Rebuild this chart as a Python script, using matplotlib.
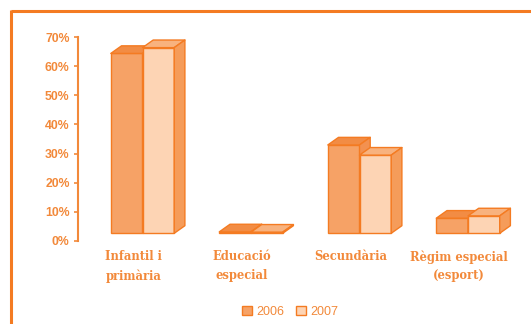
import numpy as np
import matplotlib.pyplot as plt
from matplotlib.patches import Rectangle, Polygon
from matplotlib.lines import Line2D
from matplotlib.ticker import FuncFormatter

# share of pupils by stage, %
categories = ["Infantil i\nprimària", "Educació\nespecial", "Secundària", "Règim especial\n(esport)"]
years = ["2006", "2007"]
vals_2006 = [61.9, 0.5, 30.4, 5.2]
vals_2007 = [63.9, 0.4, 26.9, 6.0]
y_ticks = [0, 10, 20, 30, 40, 50, 60, 70]

ORANGE = "#F47B22"
TEXT = "#F2893A"
front_col = {"2006": "#F6A266", "2007": "#FDD4B4"}
top_col = {"2006": "#F28C44", "2007": "#F8B27E"}
side_col = {"2006": "#F39150", "2007": "#F59C5A"}

W, H = 531, 324
fig = plt.figure(figsize=(W / 100, H / 100), dpi=100)
fig.patch.set_facecolor("white")

# axes placed in pixel terms
left, right = 78, 521
bottom_px, top_px = 240.7, 37.3
ax = fig.add_axes([left / W, 1 - bottom_px / H, (right - left) / W, (bottom_px - top_px) / H])

group_px = 108.5          # pixels per category step
px_per_unit = (bottom_px - top_px) / 70.0
OFF = (bottom_px - 233.3) / px_per_unit   # floor of the boxes sits above the 0% tick
x0 = -(133.5 - left) / group_px
ax.set_xlim(x0, x0 + (right - left) / group_px)
ax.set_ylim(-OFF, 70 - OFF)

bar_w = 31.7 / group_px
shift = -22.7 / group_px
ddx = 10.7 / group_px      # box depth, x
ddy = 7.6 / px_per_unit    # box depth, y
lw = 1.0

x = np.arange(len(categories))
for i, xi in enumerate(x):
    for j, (yr, vals) in enumerate(zip(years, [vals_2006, vals_2007])):
        h = vals[i]
        bx = xi + shift + j * bar_w
        # front face
        ax.add_patch(Rectangle((bx, 0), bar_w, h, facecolor=front_col[yr],
                               edgecolor=ORANGE, lw=lw, clip_on=False, zorder=3 + j))
        # top face
        ax.add_patch(Polygon([(bx, h), (bx + bar_w, h), (bx + bar_w + ddx, h + ddy), (bx + ddx, h + ddy)],
                             closed=True, facecolor=top_col[yr], edgecolor=ORANGE, lw=lw,
                             joinstyle="round", clip_on=False, zorder=3 + j))
        # side face
        ax.add_patch(Polygon([(bx + bar_w, 0), (bx + bar_w + ddx, ddy), (bx + bar_w + ddx, h + ddy), (bx + bar_w, h)],
                             closed=True, facecolor=side_col[yr], edgecolor=ORANGE, lw=lw,
                             joinstyle="round", clip_on=False, zorder=3 + j))

for s in ax.spines.values():
    s.set_visible(False)
ax.set_yticks([])
ax.set_xticks(x)
ax.set_xticklabels(categories, fontfamily="DejaVu Serif", fontweight="bold", fontsize=8.3,
                   color=TEXT, linespacing=1.55)
ax.tick_params(axis="x", length=0, pad=7)

# percentage scale, offset from the box floor
sec = ax.secondary_yaxis("left", functions=(lambda y: y + OFF, lambda y: y - OFF))
sec.set_yticks(y_ticks)
sec.yaxis.set_major_formatter(FuncFormatter(lambda v, p: f"{v:.0f}%"))
sec.tick_params(axis="y", direction="out", length=3, width=1.2, color=TEXT, labelcolor=TEXT,
                labelsize=8.8, pad=3)
for lab in sec.get_yticklabels():
    lab.set_fontfamily("Liberation Sans")
    lab.set_fontweight("bold")
sec.spines["left"].set_color(TEXT)
sec.spines["left"].set_linewidth(1.5)

# legend
handles = [Rectangle((0, 0), 1, 1, facecolor=front_col[y], edgecolor=ORANGE, lw=1) for y in years]
leg = fig.legend(handles, years, loc="center", bbox_to_anchor=(290 / W, 1 - 312 / H), ncol=2,
                 frameon=False, handlelength=0.8, handleheight=0.7, handletextpad=0.35,
                 columnspacing=0.9, prop={"family": "Liberation Sans", "size": 9})
for t in leg.get_texts():
    t.set_color(TEXT)

# outer frame (top and left edges)
fig.add_artist(Line2D([10.5 / W, 1.0], [1 - 10.8 / H, 1 - 10.8 / H], color=ORANGE, lw=2.2,
                      solid_capstyle="butt"))
fig.add_artist(Line2D([10.5 / W, 10.5 / W], [1 - 10.8 / H + 1.1 / H, 0.0], color=ORANGE, lw=2.2,
                      solid_capstyle="butt"))

fig.savefig("out.png", dpi=100, facecolor="white")
